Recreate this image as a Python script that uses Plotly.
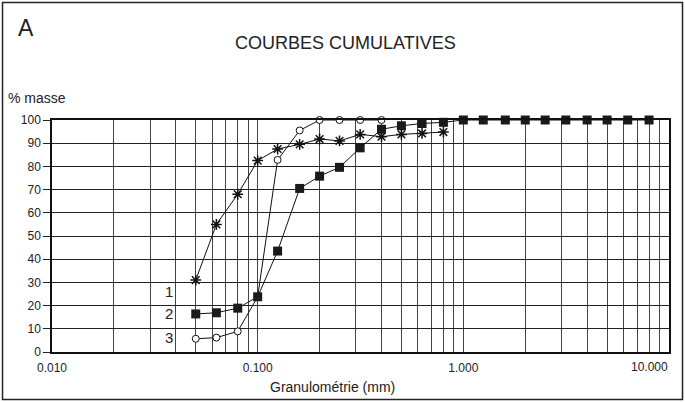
import plotly.graph_objects as go

# ---- data ----
sieves_1 = [0.05, 0.063, 0.08, 0.1, 0.125, 0.16, 0.2, 0.25, 0.315, 0.4, 0.5, 0.63, 0.8]
mass_1 = [31, 55, 68, 82.5, 87.5, 89.5, 91.8, 91, 93.8, 92.8, 93.8, 94.2, 94.8]

sieves_2 = [0.05, 0.063, 0.08, 0.1, 0.125, 0.16, 0.2, 0.25, 0.315, 0.4, 0.5, 0.63, 0.8,
            1, 1.25, 1.6, 2, 2.5, 3.15, 4, 5, 6.3, 8]
mass_2 = [16.4, 16.9, 18.9, 23.8, 43.5, 70.5, 75.8, 79.6, 88, 96, 97.5, 98.5, 99,
          100, 100, 100, 100, 100, 100, 100, 100, 100, 100]

sieves_3 = [0.05, 0.063, 0.08, 0.1, 0.125, 0.16, 0.2, 0.25, 0.315, 0.4]
mass_3 = [5.7, 6.2, 8.9, 23.8, 82.8, 95.5, 100, 100, 100, 100]

curve_labels = ["1", "2", "3"]
curve_label_y = [26, 16.6, 6.2]

x_tick_labels = ["0.010", "0.100", "1.000", "10.000"]
decades = [0.01, 0.1, 1, 10]

FONT = "Liberation Sans, Arial, sans-serif"

fig = go.Figure()

fig.add_trace(go.Scatter(
    x=sieves_1, y=mass_1, mode="lines+markers", cliponaxis=False,
    line=dict(color="#111", width=1),
    marker=dict(symbol="asterisk-open", size=9, color="#111", line=dict(color="#111", width=1.5)),
    showlegend=False))
fig.add_trace(go.Scatter(
    x=sieves_3, y=mass_3, mode="lines+markers", cliponaxis=False,
    line=dict(color="#111", width=1),
    marker=dict(symbol="circle", size=7, color="white", line=dict(color="#111", width=1)),
    showlegend=False))
fig.add_trace(go.Scatter(
    x=sieves_2, y=mass_2, mode="lines+markers", cliponaxis=False,
    line=dict(color="#111", width=1),
    marker=dict(symbol="square", size=9, color="#1a1a1a", line=dict(color="#1a1a1a", width=0)),
    showlegend=False))

# grid values at 1..9 x each decade
grid_vals = []
grid_text = []
for d in decades[:-1]:
    for k in range(1, 10):
        grid_vals.append(d * k)
        grid_text.append(x_tick_labels[decades.index(d)] if k == 1 else "")
grid_vals.append(decades[-1])
grid_text.append("")

fig.update_xaxes(
    type="log", range=[-2, 1],
    tickvals=grid_vals, ticktext=grid_text,
    showgrid=True, gridcolor="#444", gridwidth=1.2,
    showline=True, mirror=True, linecolor="#111", linewidth=1.5,
    ticks="outside", ticklen=4, tickcolor="rgba(0,0,0,0)",
    tickfont=dict(family=FONT, size=12, color="#222"),
    zeroline=False, automargin=False)
fig.update_yaxes(
    range=[0, 100], dtick=10, tick0=0,
    showgrid=True, gridcolor="#222", gridwidth=1.2,
    showline=True, mirror=True, linecolor="#111", linewidth=1.5,
    ticks="outside", ticklen=7, tickcolor="#222", tickwidth=1,
    tickfont=dict(family=FONT, size=12, color="#222"),
    zeroline=False, automargin=False)

ann = []
for lab, yv in zip(curve_labels, curve_label_y):
    ann.append(dict(x=-1.433, y=yv, xref="x", yref="y", text=lab, showarrow=False,
                    font=dict(family=FONT, size=15, color="#222")))
ann += [
    dict(x=1.0016, y=-0.063, xref="paper", yref="paper", text=x_tick_labels[-1], showarrow=False,
         xanchor="right", yanchor="middle", font=dict(family=FONT, size=12, color="#222")),
    dict(x=-0.0585, y=1.3966, xref="paper", yref="paper", text="A", showarrow=False,
         xanchor="left", yanchor="middle", font=dict(family=FONT, size=23, color="#222")),
    dict(x=0.4749, y=1.332, xref="paper", yref="paper", text="COURBES CUMULATIVES", showarrow=False,
         xanchor="center", yanchor="middle", font=dict(family=FONT, size=18, color="#222")),
    dict(x=-0.074, y=1.0948, xref="paper", yref="paper", text="% masse", showarrow=False,
         xanchor="left", yanchor="middle", font=dict(family=FONT, size=14, color="#222")),
    dict(x=0.4554, y=-0.149, xref="paper", yref="paper", text="Granulométrie (mm)", showarrow=False,
         xanchor="center", yanchor="middle", font=dict(family=FONT, size=14, color="#222")),
]

fig.update_layout(
    width=685, height=402,
    margin=dict(l=52, r=16, t=120, b=50),
    paper_bgcolor="white", plot_bgcolor="white",
    annotations=ann,
    shapes=[dict(type="rect", xref="paper", yref="paper",
                 x0=-0.0802, x1=1.0219, y0=-0.2047, y1=1.5065,
                 line=dict(color="#222", width=1.5), fillcolor="rgba(0,0,0,0)", layer="below")],
)

fig.write_html("out.html", config={"displayModeBar": False},
               post_script="document.body.style.margin='0';document.body.style.overflow='hidden';")
